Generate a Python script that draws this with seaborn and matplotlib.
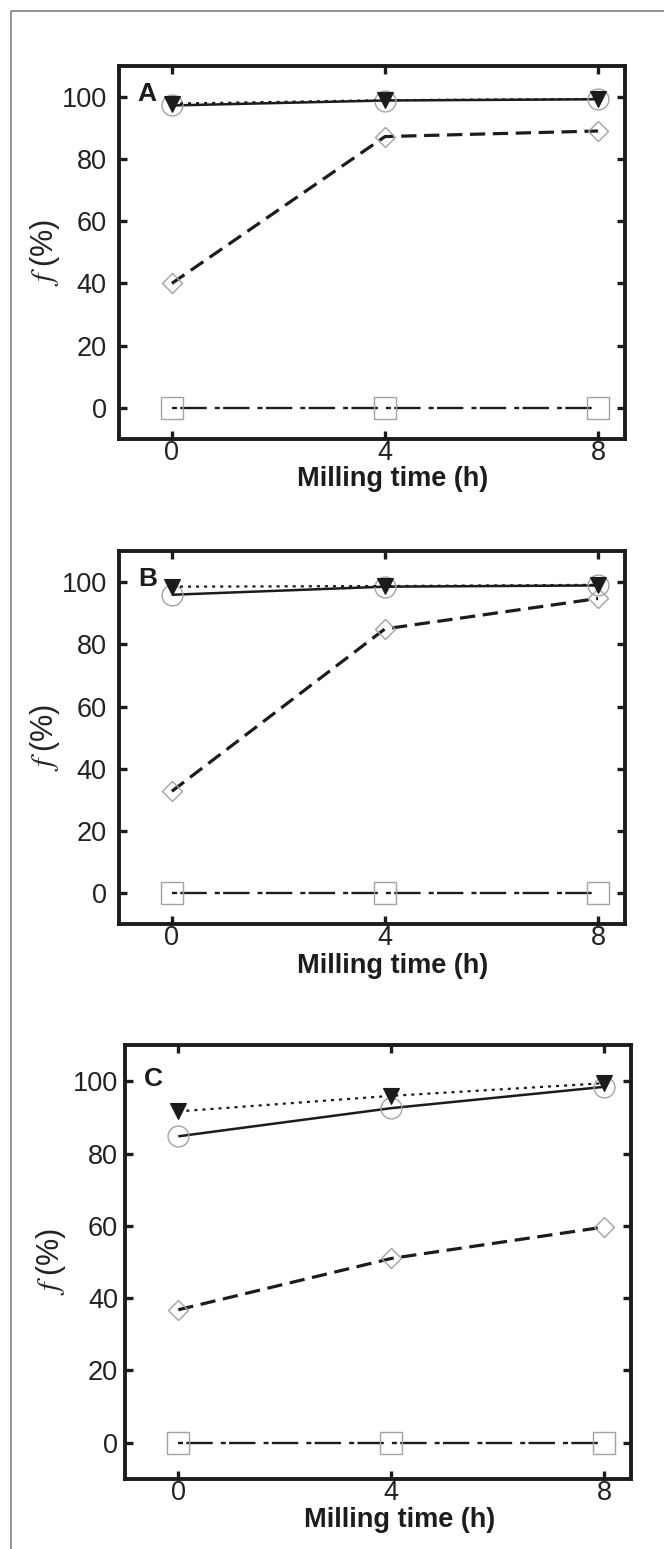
"""Fraction f (%) vs milling time, three panels A, B, C"""

import matplotlib.pyplot as plt
from matplotlib.lines import Line2D
import seaborn as sns

# milling time (h)
time_h = [0, 4, 8]

# panel A
a_triangle = [97.8, 98.9, 99.3]
a_circle = [97.2, 98.8, 99.2]
a_diamond = [40.0, 87.2, 89.0]
a_square = [0, 0, 0]

# panel B
b_triangle = [98.6, 98.8, 99.2]
b_circle = [96.0, 98.6, 99.0]
b_diamond = [32.7, 85.0, 94.8]
b_square = [0, 0, 0]

# panel C
c_triangle = [91.7, 96.0, 99.5]
c_circle = [84.8, 92.6, 98.5]
c_diamond = [36.8, 51.0, 59.7]
c_square = [0, 0, 0]

panel_labels = ['A', 'B', 'C']
y_ticks = [0, 20, 40, 60, 80, 100]

sns.set_style('ticks')
plt.rcParams['font.family'] = ['Liberation Sans', 'DejaVu Sans']
plt.rcParams['mathtext.fontset'] = 'stix'
plt.rcParams['lines.scale_dashes'] = False
plt.rcParams['lines.solid_capstyle'] = 'butt'
plt.rcParams['lines.dash_capstyle'] = 'butt'

fig = plt.figure(figsize=(6.64, 15.49), dpi=100)

# axes boxes in figure fraction
boxes = [
    [0.1786, 0.7167, 0.7622, 0.2409],
    [0.1786, 0.4036, 0.7622, 0.2405],
    [0.1883, 0.0453, 0.7620, 0.2799],
]
xlabel_y = [-0.072, -0.077, -0.064]
ytick_pad = [8.5, 8.5, 5.0]

series = [
    (a_triangle, a_circle, a_diamond, a_square),
    (b_triangle, b_circle, b_diamond, b_square),
    (c_triangle, c_circle, c_diamond, c_square),
]

gray = '#a3a3a3'
ink = '#1c1c1c'

for i, (tri, circ, diam, sq) in enumerate(series):
    ax = fig.add_axes(boxes[i])

    # squares, dash-dot
    sns.lineplot(x=time_h, y=sq, ax=ax, color=ink, lw=1.7,
                 linestyle=(0, (3.6, 2.4, 19.0, 5.8)),
                 marker='s', markersize=16, markerfacecolor='none',
                 markeredgecolor=gray, markeredgewidth=1.0, errorbar=None)
    # diamonds, dashed
    sns.lineplot(x=time_h, y=diam, ax=ax, color=ink, lw=2.3,
                 linestyle=(0, (11, 5.5)),
                 marker='D', markersize=10, markerfacecolor='none',
                 markeredgecolor=gray, markeredgewidth=1.0, errorbar=None)
    # circles, solid
    sns.lineplot(x=time_h, y=circ, ax=ax, color=ink, lw=1.8,
                 linestyle='-',
                 marker='o', markersize=15, markerfacecolor='none',
                 markeredgecolor=gray, markeredgewidth=1.0, errorbar=None)
    # filled triangles, dotted
    sns.lineplot(x=time_h, y=tri, ax=ax, color=ink, lw=1.6,
                 linestyle=(0, (2.2, 3.6)),
                 marker='v', markersize=12, markerfacecolor=ink,
                 markeredgecolor=ink, markeredgewidth=0.8, errorbar=None)

    ax.set_xlim(-1, 8.5)
    ax.set_ylim(-10, 110)
    ax.set_xticks(time_h)
    ax.set_yticks(y_ticks)

    for side in ['top', 'bottom', 'left', 'right']:
        ax.spines[side].set_visible(True)
        ax.spines[side].set_linewidth(2.8)
        ax.spines[side].set_color(ink)

    ax.tick_params(direction='in', length=6, width=2.4, color=ink,
                   top=True, right=True, labelsize=19.5, labelcolor='#222')
    ax.tick_params(axis='x', pad=1.0)
    ax.tick_params(axis='y', pad=ytick_pad[i])

    ax.set_xlabel('Milling time (h)', fontsize=19.5, fontweight='bold', color=ink)
    ax.xaxis.set_label_coords(0.542, xlabel_y[i])
    ax.set_ylabel(r'$f\;$(%)', fontsize=22, color='#222')
    ax.yaxis.set_label_coords(-0.112, 0.5)

    ax.text(-0.64, 98.8, panel_labels[i], fontsize=19, fontweight='bold',
            color=ink, ha='left', va='baseline')

# thin outer frame (left and top edges)
fig.add_artist(Line2D([11 / 664, 11 / 664], [0, 1 - 11 / 1549],
                      transform=fig.transFigure, color='#777777', lw=1.1))
fig.add_artist(Line2D([11 / 664, 1], [1 - 11 / 1549, 1 - 11 / 1549],
                      transform=fig.transFigure, color='#777777', lw=1.1))

fig.savefig('out.png', dpi=100)
